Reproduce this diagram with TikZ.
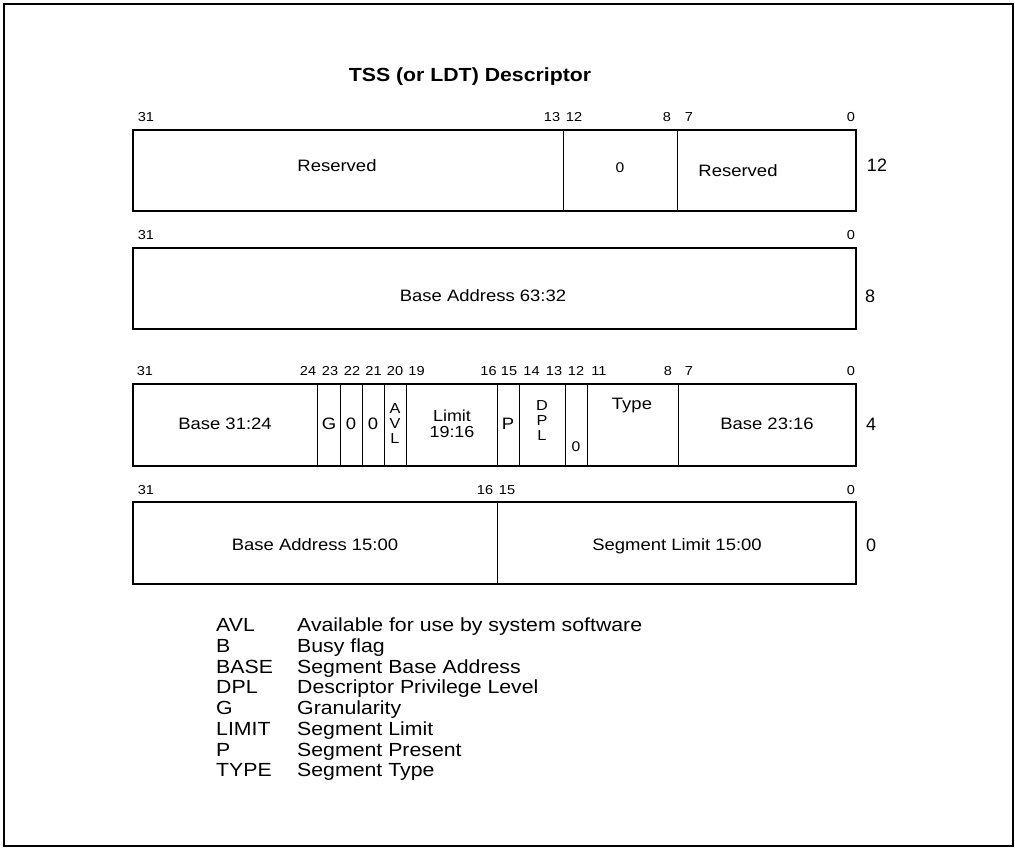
\documentclass[tikz,border=0pt]{standalone}
\usepackage{fontspec}
\setmainfont[FakeStretch=1.12]{Liberation Sans}
\newfontfamily\plainsans{Liberation Sans}
\begin{document}
\begin{tikzpicture}[x=1pt,y=-1pt,
  frameline/.style={line width=2pt},
  boxline/.style={line width=2pt},
  divider/.style={line width=1pt},
  bitlbl/.style={font=\fontsize{13}{14}\selectfont, inner sep=0pt, text height=9.3pt, text depth=0pt},
  fld/.style={font=\fontsize{16.5}{18}\selectfont, inner sep=0pt, text height=11.8pt, text depth=0pt},
  fldml/.style={font=\fontsize{16}{16}\selectfont, inner sep=0pt, align=center},
  stack/.style={font=\fontsize{14.5}{15}\selectfont, inner sep=0pt, align=center},
  smallfld/.style={font=\fontsize{14}{15}\selectfont, inner sep=0pt, text height=10pt, text depth=0pt},
  rowlbl/.style={font=\plainsans\fontsize{18}{20}\selectfont, inner sep=0pt, text height=12.9pt, text depth=0pt},
  leg/.style={font=\fontsize{19}{20}\selectfont, inner sep=0pt, text height=13.6pt, text depth=0pt, anchor=west},
  ttl/.style={font=\bfseries\fontsize{19}{20}\selectfont, inner sep=0pt, text height=13.6pt, text depth=0pt}]
\useasboundingbox (0,0) rectangle (1015,848);
\draw[frameline] (4,4) rectangle (1013,846);

% title
\node[ttl] (title) at (470,75) {TSS (or LDT) Descriptor};

% ---------- row 12 ----------
\draw[divider] (563,130) -- (563,211);
\draw[divider] (677,130) -- (677,211);
\draw[boxline] (133,130) rectangle (856,211);
\node[bitlbl] (r1b31) at (146,117) {31};
\node[bitlbl] (r1b13) at (552,117) {13};
\node[bitlbl] (r1b12) at (574,117) {12};
\node[bitlbl] (r1b8) at (667,117) {8};
\node[bitlbl] (r1b7) at (689,117) {7};
\node[bitlbl] (r1b0) at (851,117) {0};
\node[fld] (r1res) at (337,166) {Reserved};
\node[smallfld] (r1zero) at (620,168) {0};
\node[fld] (r1res2) at (738,171) {Reserved};
\node[rowlbl] (off12) at (877,165) {12};

% ---------- row 8 ----------
\draw[boxline] (133,248) rectangle (856,329);
\node[bitlbl] (r2b31) at (146,235) {31};
\node[bitlbl] (r2b0) at (851,235) {0};
\node[fld] (r2base) at (483,296) {Base Address 63:32};
\node[rowlbl] (off8) at (870,296) {8};

% ---------- row 4 ----------
\foreach \xx in {317.7,340,362.3,384.3,406,497.7,519.3,565.7,587.3,678.7}
  \draw[divider] (\xx,384) -- (\xx,466);
\draw[boxline] (133,384) rectangle (856,466);
\node[bitlbl] (r3b31) at (145,371) {31};
\node[bitlbl] (r3b24) at (308,371) {24};
\node[bitlbl] (r3b23) at (330,371) {23};
\node[bitlbl] (r3b22) at (352,371) {22};
\node[bitlbl] (r3b21) at (373.5,371) {21};
\node[bitlbl] (r3b20) at (395,371) {20};
\node[bitlbl] (r3b19) at (416.5,371) {19};
\node[bitlbl] (r3b16) at (488.5,371) {16};
\node[bitlbl] (r3b15) at (509,371) {15};
\node[bitlbl] (r3b14) at (531.5,371) {14};
\node[bitlbl] (r3b13) at (554,371) {13};
\node[bitlbl] (r3b12) at (576,371) {12};
\node[bitlbl] (r3b11) at (599,371) {11};
\node[bitlbl] (r3b8) at (668,371) {8};
\node[bitlbl] (r3b7) at (689,371) {7};
\node[bitlbl] (r3b0) at (851,371) {0};
\node[fld] (base3124) at (225,424) {Base 31:24};
\node[fld] (gbit) at (329,424) {G};
\node[fld] (z22) at (351,424) {0};
\node[fld] (z21) at (373,424) {0};
\node[stack] (avl) at (395,424) {A\\V\\L};
\node[fldml] (lim) at (452,424) {Limit\\19:16};
\node[fld] (pbit) at (508,424) {P};
\node[stack] (dpl) at (542,421) {D\\P\\L};
\node[smallfld] (z12) at (576,446) {0};
\node[fld] (type) at (632,404) {Type};
\node[fld] (base2316) at (767,424) {Base 23:16};
\node[rowlbl] (off4) at (871,424) {4};

% ---------- row 0 ----------
\draw[divider] (497,502) -- (497,584);
\draw[boxline] (133,502) rectangle (856,584);
\node[bitlbl] (r4b31) at (146,490) {31};
\node[bitlbl] (r4b16) at (485,490) {16};
\node[bitlbl] (r4b15) at (507,490) {15};
\node[bitlbl] (r4b0) at (851,490) {0};
\node[fld] (base1500) at (315,545) {Base Address 15:00};
\node[fld] (seglim) at (677,545) {Segment Limit 15:00};
\node[rowlbl] (off0) at (871,545) {0};

% ---------- legend ----------
\foreach \ab/\desc [count=\i from 0] in {AVL/Available for use by system software,
    B/Busy flag, BASE/Segment Base Address, DPL/Descriptor Privilege Level,
    G/Granularity, LIMIT/Segment Limit, P/Segment Present, TYPE/Segment Type}{
  \node[leg] (ab\i) at (216,625+20.7*\i) {\ab};
  \node[leg] (de\i) at (297,625+20.7*\i) {\desc};
}
\end{tikzpicture}
\end{document}
